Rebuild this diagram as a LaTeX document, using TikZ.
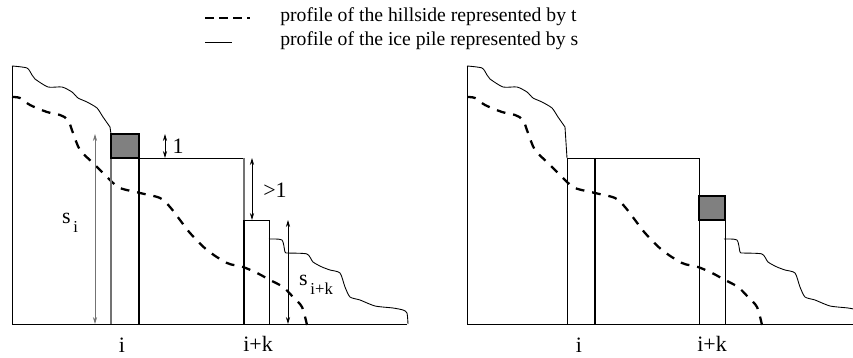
\documentclass[tikz,border=0pt]{standalone}
\usepackage{fontspec}
\setmainfont{Liberation Serif}
\usetikzlibrary{arrows.meta}

% profiles, in pixel units of one panel
\newcommand{\hillprofile}{plot[smooth,tension=0.5] coordinates {(12,97) (20,98) (30,105) (47,112) (60,115) (68,120) (73,133) (80,150) (93,163) (110,180) (120,188) (140,193) (160,198) (170,207) (180,220) (190,233) (207,250) (227,263) (243,267) (257,273) (270,280) (283,287) (293,297) (302,307) (307,325)}}
\newcommand{\iceupper}{plot[smooth,tension=0.4] coordinates {(12,66) (27,68) (32,75) (35,79) (48,87) (62,87) (72,92) (78,98) (87,102) (97,108) (103,117) (110,127)}}
\newcommand{\icelower}{plot[smooth,tension=0.4] coordinates {(269,239) (282,240) (285,252) (288,253) (307,254) (313,262) (322,267) (330,270) (340,273) (345,287) (350,297) (360,300) (375,306) (393,308) (403,310) (407,313) (408,324)}}
\newcommand{\lowsub}[1]{\raisebox{-0.9ex}{\fontsize{9.5}{10}\selectfont\,#1}}

\begin{document}
\begin{tikzpicture}[x=0.02cm,y=-0.02cm,
    hill/.style={dash pattern=on 5pt off 4.5pt,line width=1.3pt},
    ice/.style={line width=0.5pt},
    thin line/.style={line width=0.5pt},
    thick line/.style={line width=1.3pt},
    grey line/.style={line width=0.6pt,draw=black!55},
    grain/.style={draw=black,fill=black!50,line width=0.6pt},
    measure/.style={{Stealth[length=4pt,width=2.4pt]}-{Stealth[length=4pt,width=2.4pt]},line width=0.5pt},
    lbl/.style={font=\fontsize{12.5}{14}\selectfont,inner sep=0pt},
    col label/.style={lbl,anchor=base},
    legend text/.style={font=\fontsize{11.2}{13}\selectfont,inner sep=0pt,anchor=west}]
\useasboundingbox (0,0) rectangle (853,358);

% legend
\coordinate (hl1) at (205,18);
\coordinate (hl2) at (250,18);
\coordinate (il1) at (205,42);
\coordinate (il2) at (232,42);
\draw [hill,dash pattern=on 5pt off 3pt,line width=1.2pt] (hl1) -- (hl2);
\draw [ice] (il1) -- (il2);
\node [legend text] (hilltext) at (280,17) {profile of the hillside represented by t};
\node [legend text] (icetext) at (280,41) {profile of the ice pile represented by s};

% left panel
\draw [thin line] (12,324) -- (407,324);
\draw [thin line] (12,324) -- (12,66);
\draw [ice] \iceupper -- (111,134);
\draw [hill] \hillprofile;
\draw [grey line] (111,134) -- (111,324);
\draw [grain] (111,134) rectangle (139,158);
\draw [thick line] (139,158) -- (139,324);
\draw [thin line] (139,158) -- (244,158);
\draw [grey line] (244,158) -- (244,220);
\draw [thick line] (244,220) -- (244,324);
\draw [thin line] (244,220) -- (269,220) -- (269,324);
\draw [ice] \icelower;

\coordinate (siT) at (95,134);
\coordinate (siB) at (95,324);
\coordinate (oneT) at (165,134);
\coordinate (oneB) at (165,158);
\coordinate (gtT) at (252,158);
\coordinate (gtB) at (252,220);
\coordinate (sikT) at (288,220);
\coordinate (sikB) at (288,324);
\draw [measure,draw=black!55] (siT) -- (siB);
\draw [measure] (oneT) -- (oneB);
\draw [measure] (gtT) -- (gtB);
\draw [measure] (sikT) -- (sikB);
\node [lbl] (si) at (70,223) {s\lowsub{i}};
\node [lbl] (one) at (178,146) {1};
\node [lbl] (gt) at (275,190) {>1};
\node [lbl] (sik) at (316,285) {s\lowsub{i+k}};
\node [col label] (iL) at (122,353) {i};
\node [col label] (ikL) at (258,352) {i+k};

% right panel
\begin{scope}[shift={(455,0)}]
\draw [thin line] (12,324) -- (398,324);
\draw [thin line] (12,324) -- (12,66);
\draw [ice] \iceupper -- (112,158);
\draw [hill] \hillprofile;
\draw [thin line] (112,158) rectangle (244,324);
\draw [thick line] (140,158) -- (140,324);
\draw [grain] (244,196) rectangle (270,220);
\draw [thick line] (244,220) -- (270,220);
\draw [thin line] (270,220) -- (270,324);
\draw [ice] \icelower;
\node [col label] (iR) at (124,353) {i};
\node [col label] (ikR) at (257,352) {i+k};
\end{scope}
\end{tikzpicture}
\end{document}
